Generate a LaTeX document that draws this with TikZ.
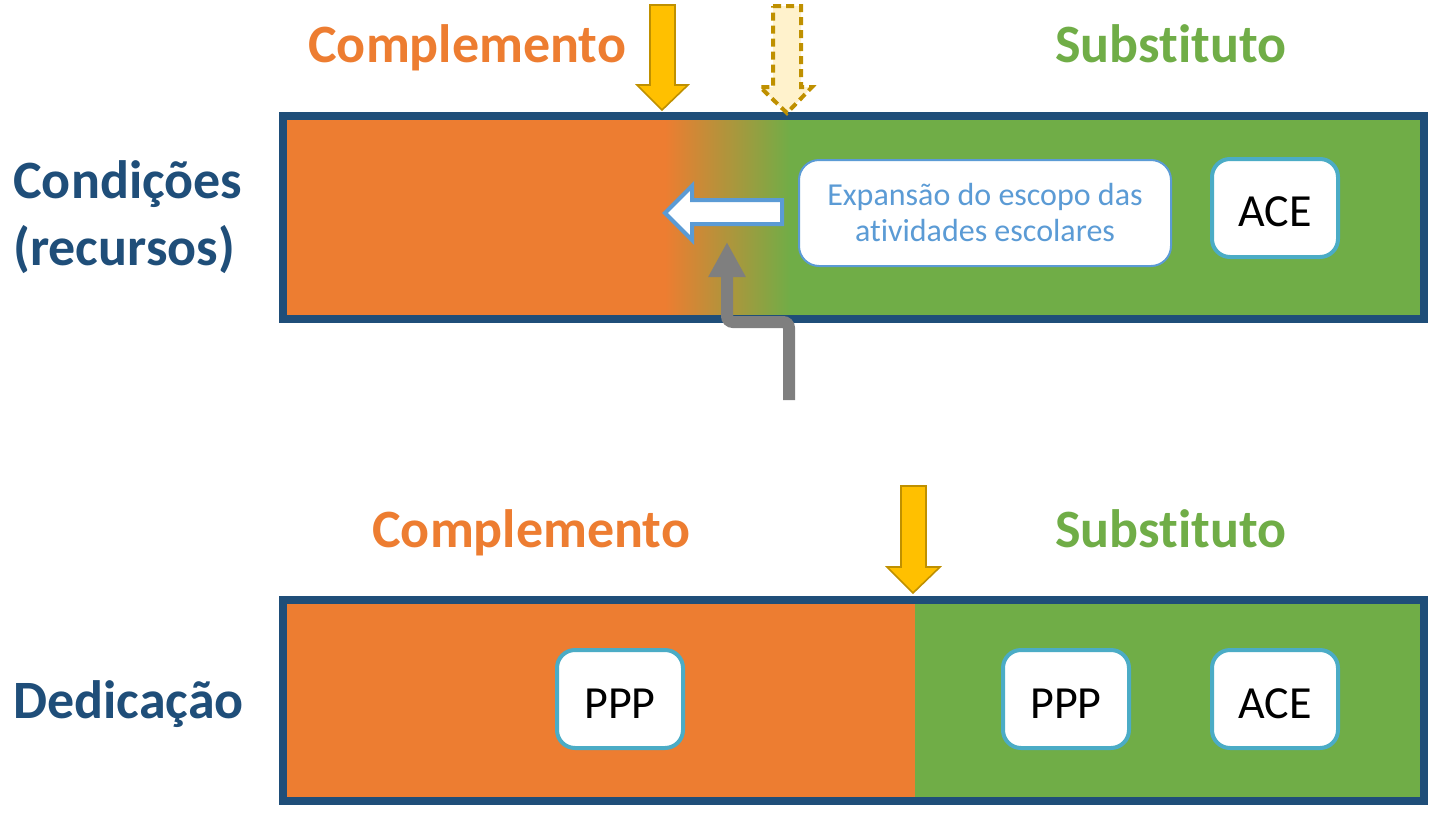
\documentclass[tikz,border=0pt]{standalone}
\usepackage{fontspec}
\setmainfont{Carlito}[Ligatures=NoCommon]
\usetikzlibrary{arrows.meta}
\definecolor{corange}{HTML}{ED7D31}
\definecolor{cgreen}{HTML}{70AD47}
\definecolor{cdblue}{HTML}{1F4E79}
\definecolor{cyellow}{HTML}{FFC000}
\definecolor{cgold}{HTML}{BF9000}
\definecolor{clyellow}{HTML}{FFF2CC}
\definecolor{cblue}{HTML}{5B9BD5}
\definecolor{ccyan}{HTML}{4BACC6}
\definecolor{cgray}{HTML}{7F7F7F}
\begin{document}
\begin{tikzpicture}[x=0.5pt,y=-0.5pt,
  biglabel/.style={inner sep=0pt,anchor=base west,font=\fontsize{27}{32}\selectfont\bfseries},
  itembox/.style={draw=ccyan,line width=2pt,fill=white,rounded corners=9pt,
    minimum width=63pt,minimum height=49pt,inner sep=0pt,
    text height=19.6pt,text depth=0pt,
    font=\fontsize{23}{27}\selectfont},
  barborder/.style={draw=cdblue,line width=4pt},
  yarrow/.style={fill=cyellow,draw=cgold,line width=0.8pt,line join=miter},
  darrow/.style={fill=clyellow,draw=cgold,line width=2pt,dash pattern=on 4pt off 2.5pt},
  harrow/.style={fill=white,draw=cblue,line width=2pt,line join=miter},
  garrow/.style={draw=cgray,line width=6pt,rounded corners=3pt,-{Triangle[length=17.5pt,width=17.5pt]}}
]
\useasboundingbox (0,0) rectangle (1431,815);

% ---- top bar ----
\fill[corange] (283,116) rectangle (666,319);
\shade[left color=corange,right color=cgreen] (665,116) rectangle (791,319);
\fill[cgreen] (790,116) rectangle (1424,319);
\draw[barborder] (283,116) rectangle (1424,319);

% ---- bottom bar ----
\fill[corange] (283,600) rectangle (915,801);
\fill[cgreen] (915,600) rectangle (1424,801);
\draw[barborder] (283,600) rectangle (1424,801);

% ---- labels ----
\node[biglabel,text=corange] (comp1) at (308,62) {Complemento};
\node[biglabel,text=cgreen] (subs1) at (1055,62) {Substituto};
\node[biglabel,text=corange] (comp2) at (372,547) {Complemento};
\node[biglabel,text=cgreen] (subs2) at (1055,547) {Substituto};
\node[biglabel,text=cdblue] (cond1) at (13,198) {Condições};
\node[biglabel,text=cdblue] (cond2) at (13,265) {(recursos)};
\node[biglabel,text=cdblue] (ded) at (13,718) {Dedicação};

% ---- yellow arrows ----
\draw[yarrow] (650,5) -- (675,5) -- (675,85) -- (688,85) -- (662,110) -- (637,85) -- (650,85) -- cycle;
\draw[darrow] (773,6) -- (801,6) -- (801,87) -- (812,87) -- (787,113) -- (760,87) -- (773,87) -- cycle;
\draw[yarrow] (901,486) -- (926,486) -- (926,567) -- (940,567) -- (913,593) -- (887,567) -- (901,567) -- cycle;

% ---- boxes ----
\node[draw=cblue,fill=white,line width=1pt,rounded corners=10pt,minimum width=186pt,minimum height=53pt,
  inner sep=0pt,align=center,text=cblue,font=\fontsize{16}{18}\selectfont] (exp) at (985,213)
  {Expansão do escopo das\\atividades escolares};
\node[itembox,text height=18.8pt] (ace1) at (1275,208) {ACE};
\node[itembox] (ppp1) at (620,699) {PPP};
\node[itembox] (ppp2) at (1066,699) {PPP};
\node[itembox] (ace2) at (1275,699) {ACE};

% ---- hollow blue arrow ----
\draw[harrow] (665,213) -- (692,186) -- (692,200) -- (782,200) -- (782,224) -- (692,224) -- (692,240) -- cycle;

% ---- gray elbow arrow ----
\coordinate (gstart) at (789,400);
\coordinate (gcorner) at (727,322);
\coordinate (gend) at (727,242);
\draw[garrow] (gstart) |- (gcorner) -- (gend);
\end{tikzpicture}
\end{document}
